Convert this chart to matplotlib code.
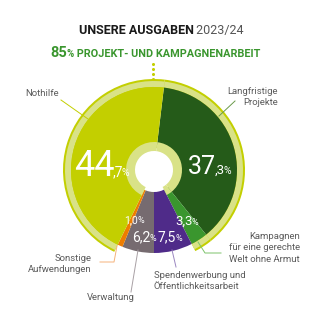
import numpy as np
import matplotlib
matplotlib.use('Agg')
import matplotlib.pyplot as plt

plt.rcParams['font.family'] = ['Roboto', 'DejaVu Sans']

# data (clockwise from top)
categories = ['Langfristige Projekte', 'Kampagnen', 'Spendenwerbung', 'Verwaltung', 'Sonstige', 'Nothilfe']
shares = [37.3, 3.3, 7.5, 6.2, 1.0, 44.7]
is_project = [True, True, False, False, False, True]
seg_colors = ['#255b19', '#3a962e', '#4f2b89', '#766b70', '#ee7d00', '#c3cf00']

LIME = '#c3cf00'
LIGHT = '#d9e287'
GREEN_TXT = '#3a962e'
GRAY_TXT = '#5b5b5b'

W = H = 327
fig = plt.figure(figsize=(W / 100, H / 100), dpi=100)

# pie geometry in pixels
CX, CY, R = 154, 170, 91
pax = fig.add_axes([(CX - R) / W, (H - CY - R) / H, 2 * R / W, 2 * R / H])

# boundary Spendenwerbung / Verwaltung sits at the bottom
start = -90 + 3.6 * sum(shares[:3])


def ring(radius, width, colors, z):
    pax.pie(shares, colors=colors, radius=radius, startangle=start, counterclock=False,
            wedgeprops=dict(width=width, linewidth=0), frame=True)
    for w in pax.patches[-len(shares):]:
        w.set_zorder(z)


# outer project ring (lime border + light band)
ring(1.0, 9 / R, [LIME if p else 'none' for p in is_project], 1)
ring(89 / R, 6 / R, [LIGHT if p else 'none' for p in is_project], 2)
# main segments
ring(83 / R, 61 / R, seg_colors, 3)
# inner light ring for project part
ring(28 / R, 9 / R, [LIGHT if p else 'none' for p in is_project], 4)
pax.set_xlim(-1, 1)
pax.set_ylim(-1, 1)
pax.set_aspect('equal')
pax.axis('off')

# overlay in pixel coordinates for text and leader lines
ax = fig.add_axes([0, 0, 1, 1])
ax.set_xlim(0, W)
ax.set_ylim(H, 0)
ax.axis('off')
ax.patch.set_alpha(0)
fig.canvas.draw()
renderer = fig.canvas.get_renderer()


def run(x, y, parts, ha='left', gap=-0.5):
    """Place text pieces side by side on one baseline."""
    arts = []
    cur = x
    for txt, fs, wt, col in parts:
        t = ax.text(cur, y, txt, fontsize=fs, fontweight=wt, color=col, va='baseline')
        cur += t.get_window_extent(renderer).width + gap
        arts.append(t)
    if ha == 'center':
        shift = (cur - x) / 2
        for t in arts:
            t.set_x(t.get_position()[0] - shift)
    return arts


# title
run(161, 34, [('UNSERE AUSGABEN', 9, 'bold', '#1a1a1a'), (' 2023/24', 9, 'normal', '#555555')], ha='center')
run(155, 57, [('85', 10.5, 'bold', GREEN_TXT), ('%', 7, 'bold', GREEN_TXT),
              (' PROJEKT- UND KAMPAGNENARBEIT', 7.8, 'bold', GREEN_TXT)], ha='center')

# dotted connector
ax.plot([153] * 4, [64, 69, 74, 79], 'o', color=LIME, markersize=2.2, markeredgewidth=0)

# values inside the segments
run(74, 176, [('44', 26, 'normal', 'white'), (',7', 10, 'normal', 'white'), ('%', 7.5, 'normal', 'white')], gap=-2)
run(188, 174, [('37', 18, 'normal', 'white'), (',3', 9.5, 'normal', 'white'), ('%', 7.5, 'normal', 'white')], gap=-1.5)
run(124, 223, [('1,0', 7.5, 'normal', 'white'), ('%', 6.5, 'normal', 'white')])
run(132, 241, [('6,2', 10, 'normal', 'white'), ('%', 6.5, 'normal', 'white')])
run(158, 241, [('7,5', 10, 'normal', 'white'), ('%', 6.5, 'normal', 'white')])
run(175, 225, [('3,3', 9.5, 'normal', 'white'), ('%', 6.5, 'normal', 'white')])

# category labels with leader lines
lab = dict(fontsize=6.8, color=GRAY_TXT, linespacing=1.3)
ax.text(25, 93, 'Nothilfe', ha='left', va='center', **lab)
ax.plot([61, 88], [100, 119], color=LIME, lw=0.7)

ax.text(278, 97, 'Langfristige\nProjekte', ha='right', va='center', **lab)
ax.plot([219, 235], [116, 101], color='#6a9a4a', lw=0.7)

ax.text(300, 248, 'Kampagnen\nfür eine gerechte\nWelt ohne Armut', ha='right', va='center', **lab)
ax.plot([198, 205, 221], [242, 253, 253], color='#7cc36a', lw=0.7)

ax.text(154, 281, 'Spendenwerbung und\nÖffentlichkeitsarbeit', ha='left', va='center', **lab)
ax.plot([172, 176], [250, 267], color='#9a86c0', lw=0.7)

ax.text(92, 264, 'Sonstige\nAufwendungen', ha='right', va='center', **lab)
ax.plot([117, 114, 100], [246, 262, 262], color='#f5b27a', lw=0.7)

ax.text(87, 298, 'Verwaltung', ha='left', va='center', **lab)
ax.plot([138, 131], [250, 292], color='#a8a0a4', lw=0.7)

fig.savefig('out.png', dpi=100)
